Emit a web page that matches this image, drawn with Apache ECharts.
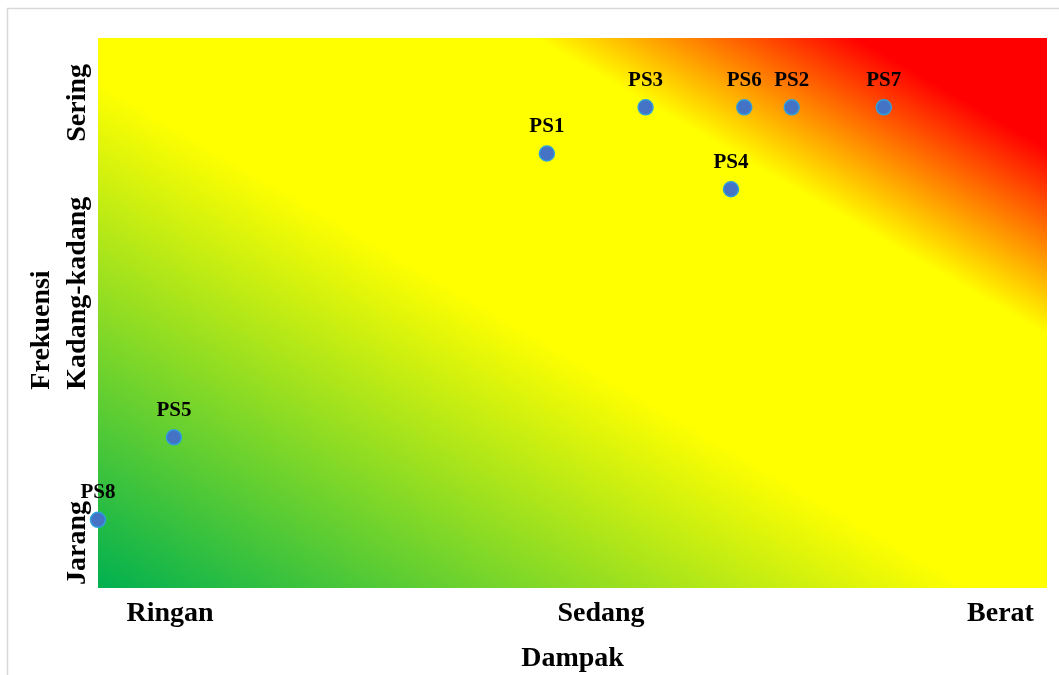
<!DOCTYPE html>
<html>
<head>
<meta charset="utf-8">
<script src="https://cdn.jsdelivr.net/npm/echarts@6/dist/echarts.min.js"></script>
<style>
html,body{margin:0;padding:0;background:#fff;}
#chart{width:1059px;height:675px;}
</style>
</head>
<body>
<div id="chart"></div>
<script>
// Data
const pointNames = ['PS1','PS2','PS3','PS4','PS5','PS6','PS7','PS8'];
const impactValues = [47.3, 73.1, 57.7, 66.7, 8.0, 68.1, 82.8, 0];
const frequencyValues = [79.0, 87.4, 87.4, 72.5, 27.4, 87.4, 87.4, 12.4];

const xTickLabels = ['Ringan', 'Sedang', 'Berat'];
const xTickValues = [7.6, 53.0, 95.1];
const yTickLabels = ['Jarang', 'Kadang-kadang', 'Sering'];
const yTickValues = [8.2, 53.6, 88.2];

const FONT = '"Liberation Serif", "Times New Roman", serif';

const seriesData = pointNames.map((n, i) => ({ name: n, value: [impactValues[i], frequencyValues[i]] }));

const chart = echarts.init(document.getElementById('chart'), null, { renderer: 'canvas' });
chart.setOption({
  animation: false,
  backgroundColor: '#ffffff',
  graphic: [{
    type: 'rect',
    shape: { x: 7.5, y: 8.5, width: 1100, height: 700 },
    style: { fill: null, stroke: '#d9d9d9', lineWidth: 1.5 },
    silent: true, z: -10
  }],
  grid: {
    left: 98, top: 38, right: 12, bottom: 87,
    outerBoundsMode: 'none',
    containLabel: false,
    show: true,
    borderWidth: 0,
    backgroundColor: {
      type: 'linear',
      x: 0.2486, y: 1.2484, x2: 0.7514, y2: -0.2484,
      colorStops: [
        { offset: 0, color: '#00b050' },
        { offset: 0.46, color: '#ffff00' },
        { offset: 0.73, color: '#ffff00' },
        { offset: 0.90, color: '#ff0000' },
        { offset: 1, color: '#ff0000' }
      ]
    }
  },
  xAxis: {
    type: 'value', min: 0, max: 100,
    name: 'Dampak', nameLocation: 'middle', nameGap: 57,
    nameTextStyle: { fontFamily: FONT, fontWeight: 'bold', fontSize: 28, color: '#000' },
    axisLine: { show: false }, axisTick: { show: false }, splitLine: { show: false },
    axisLabel: {
      customValues: xTickValues,
      margin: 12,
      fontFamily: FONT, fontWeight: 'bold', fontSize: 28, color: '#000',
      formatter: function (v) {
        let best = 0, d = 1e9;
        xTickValues.forEach((t, i) => { if (Math.abs(t - v) < d) { d = Math.abs(t - v); best = i; } });
        return xTickLabels[best];
      }
    }
  },
  yAxis: {
    type: 'value', min: 0, max: 100,
    name: 'Frekuensi', nameLocation: 'middle', nameGap: 40, nameRotate: 90,
    nameTextStyle: { fontFamily: FONT, fontWeight: 'bold', fontSize: 28, color: '#000', padding: [0, 34, 0, 0] },
    axisLine: { show: false }, axisTick: { show: false }, splitLine: { show: false },
    axisLabel: {
      customValues: yTickValues,
      rotate: 90,
      margin: 6,
      fontFamily: FONT, fontWeight: 'bold', fontSize: 28, color: '#000',
      formatter: function (v) {
        let best = 0, d = 1e9;
        yTickValues.forEach((t, i) => { if (Math.abs(t - v) < d) { d = Math.abs(t - v); best = i; } });
        return yTickLabels[best];
      }
    }
  },
  series: [{
    type: 'scatter',
    data: seriesData,
    symbol: 'circle',
    symbolSize: 15,
    itemStyle: { color: '#4472c4', borderColor: '#2f9fdc', borderWidth: 1.5, opacity: 1 },
    label: {
      show: true, position: 'top', distance: 8,
      formatter: '{b}',
      fontFamily: FONT, fontWeight: 'bold', fontSize: 21, color: '#000'
    },
    clip: false
  }]
});
</script>
</body>
</html>
